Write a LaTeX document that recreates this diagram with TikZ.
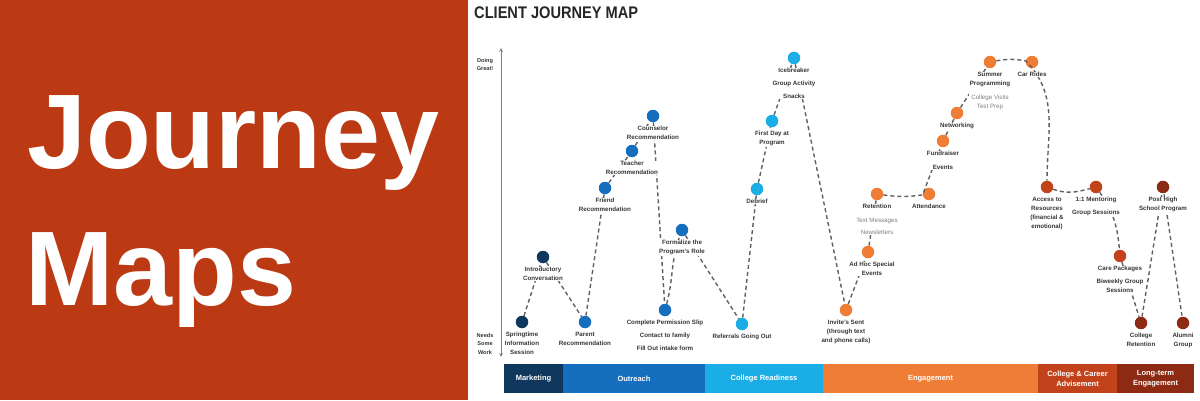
\documentclass[tikz,border=0pt]{standalone}
\usepackage{fontspec}
\setmainfont{Liberation Sans}
\usetikzlibrary{positioning,arrows}

\definecolor{panelred}{RGB}{187,58,20}
\definecolor{navy}{RGB}{16,56,94}
\definecolor{outblue}{RGB}{22,110,190}
\definecolor{skyblue}{RGB}{27,173,230}
\definecolor{engorange}{RGB}{239,125,54}
\definecolor{advred}{RGB}{193,66,27}
\definecolor{ltred}{RGB}{140,42,20}
\definecolor{txtgray}{RGB}{55,55,55}
\newcommand{\softtxt}[1]{{\mdseries\color{gray}#1}}

\begin{document}
\begin{tikzpicture}[x=1pt,y=1pt,
    dot/.style={circle,inner sep=0pt,minimum size=12.5pt},
    lbl/.style={font=\fontsize{6.2}{9}\selectfont\bfseries,text=txtgray,align=center,fill=white,inner sep=0.6pt},
    trail/.style={dashed,dash pattern=on 4pt off 3pt,line width=1.4pt,draw=gray!75!black,shorten <=1pt,shorten >=1pt},
    bar/.style={minimum height=29pt,inner sep=0pt,outer sep=0pt,text=white,align=center,font=\fontsize{7.5}{10}\selectfont\bfseries},
    axlbl/.style={font=\fontsize{5.6}{8.5}\selectfont\bfseries,text=txtgray,align=center,inner sep=0pt}]
        \useasboundingbox (0,0) rectangle (1200,400);

        \fill[panelred] (0,0) rectangle (468,400);
        \node[anchor=base west,inner sep=0pt,text=white,font=\fontsize{106}{120}\selectfont\bfseries] (jour) at (27,232) {Journey};
        \node[anchor=base west,inner sep=0pt,text=white,font=\fontsize{106}{120}\selectfont\bfseries] (maps) at (25,95) {Maps};

        \node[anchor=base west,inner sep=0pt,text=black!85,font=\fontsize{16.8}{18}\selectfont\bfseries] (maptitle) at (474,381) {\scalebox{0.87}[1]{CLIENT JOURNEY MAP}};

        \coordinate (axtop) at (501,352);
        \coordinate (axbot) at (501,43);
        \draw[<->,>=stealth,gray,line width=0.8pt] (axbot) -- (axtop);
        \node[axlbl] (great) at (485,335.5) {Doing\\Great!};
        \node[axlbl] (needs) at (485,56.5) {Needs\\Some\\Work};

        \node[dot,fill=navy] (spring) at (522,78) {};
        \node[dot,fill=navy] (intro) at (543,143) {};
        \node[dot,fill=outblue] (parent) at (585,78) {};
        \node[dot,fill=outblue] (friend) at (605,212) {};
        \node[dot,fill=outblue] (teacher) at (632,249) {};
        \node[dot,fill=outblue] (counsel) at (653,284) {};
        \node[dot,fill=outblue] (permit) at (665,90) {};
        \node[dot,fill=outblue] (formal) at (682,170) {};
        \node[dot,fill=skyblue] (referral) at (742,76) {};
        \node[dot,fill=skyblue] (debrief) at (757,211) {};
        \node[dot,fill=skyblue] (firstday) at (772,279) {};
        \node[dot,fill=skyblue] (ice) at (794,342) {};
        \node[dot,fill=engorange] (invite) at (846,90) {};
        \node[dot,fill=engorange] (adhoc) at (868,148) {};
        \node[dot,fill=engorange] (retain) at (877,206) {};
        \node[dot,fill=engorange] (attend) at (929,206) {};
        \node[dot,fill=engorange] (fund) at (943,259) {};
        \node[dot,fill=engorange] (network) at (957,287) {};
        \node[dot,fill=engorange] (summer) at (990,338) {};
        \node[dot,fill=engorange] (carride) at (1032,338) {};
        \node[dot,fill=advred] (access) at (1047,213) {};
        \node[dot,fill=advred] (mentor) at (1096,213) {};
        \node[dot,fill=advred] (care) at (1120,144) {};
        \node[dot,fill=ltred] (colret) at (1141,77) {};
        \node[dot,fill=ltred] (posths) at (1163,213) {};
        \node[dot,fill=ltred] (alumni) at (1183,77) {};

        \draw[trail] (spring) -- (intro) -- (parent) -- (friend) -- (teacher) -- (counsel) -- (permit)
            to[out=75,in=250] (formal) -- (referral) -- (debrief) -- (firstday) -- (ice) -- (invite)
            -- (adhoc) -- (retain) to[bend right=8] (attend) -- (fund) -- (network) -- (summer)
            to[bend left=10] (carride) to[out=-45,in=90] (access) to[out=-20,in=195] (mentor)
            to[out=-55,in=95] (care) -- (colret) -- (posths) -- (alumni);

        \node[lbl,below=3pt of spring] (springL) {Springtime\\Information\\Session};
        \node[lbl,below=3pt of intro] (introL) {Introductory\\Conversation};
        \node[lbl,below=3pt of parent] (parentL) {Parent\\Recommendation};
        \node[lbl,below=3pt of friend] (friendL) {Friend\\Recommendation};
        \node[lbl,below=3pt of teacher] (teacherL) {Teacher\\Recommendation};
        \node[lbl,below=3pt of counsel] (counselL) {Counselor\\Recommendation};
        \node[lbl,below=3pt of permit] (permitL) {Complete Permission Slip\\[4pt]Contact to family\\[4pt]Fill Out intake form};
        \node[lbl,below=3pt of formal] (formalL) {Formalize the\\Program's Role};
        \node[lbl,below=3pt of referral] (referralL) {Referrals Going Out};
        \node[lbl,below=3pt of debrief] (debriefL) {Debrief};
        \node[lbl,below=3pt of firstday] (firstdayL) {First Day at\\Program};
        \node[lbl,below=3pt of ice] (iceL) {Icebreaker\\[4pt]Group Activity\\[4pt]Snacks};
        \node[lbl,below=3pt of invite] (inviteL) {Invite's Sent\\(through text\\and phone calls)};
        \node[lbl,below=3pt of adhoc,xshift=4pt] (adhocL) {Ad Hoc Special\\Events};
        \node[lbl,below=3pt of retain] (retainL) {Retention\\[5pt]\softtxt{Text Messages}\\[3pt]\softtxt{Newsletters}};
        \node[lbl,below=3pt of attend] (attendL) {Attendance};
        \node[lbl,below=3pt of fund] (fundL) {Fundraiser\\[5pt]Events};
        \node[lbl,below=3pt of network] (networkL) {Networking};
        \node[lbl,below=3pt of summer] (summerL) {Summer\\Programming\\[5pt]\softtxt{College Visits}\\\softtxt{Test Prep}};
        \node[lbl,below=3pt of carride] (carrideL) {Car Rides};
        \node[lbl,below=3pt of access] (accessL) {Access to\\Resources\\(financial \&\\emotional)};
        \node[lbl,below=3pt of mentor] (mentorL) {1:1 Mentoring\\[4pt]Group Sessions};
        \node[lbl,below=3pt of care] (careL) {Care Packages\\[4pt]Biweekly Group\\Sessions};
        \node[lbl,below=3pt of colret] (colretL) {College\\Retention};
        \node[lbl,below=3pt of posths] (posthsL) {Post High\\School Program};
        \node[lbl,below=3pt of alumni] (alumniL) {Alumni\\Group};

        \node[bar,fill=navy,minimum width=59pt] (mkt) at (533.5,21.5) {Marketing};
        \node[bar,fill=outblue,minimum width=142pt,right=0pt of mkt] (outr) {Outreach};
        \node[bar,fill=skyblue,minimum width=118pt,right=0pt of outr] (ready) {College Readiness};
        \node[bar,fill=engorange,minimum width=215pt,right=0pt of ready] (engage) {Engagement};
        \node[bar,fill=advred,minimum width=79pt,right=0pt of engage] (advise) {College \& Career\\Advisement};
        \node[bar,fill=ltred,minimum width=77pt,right=0pt of advise] (longterm) {Long-term\\Engagement};
    \end{tikzpicture}
\end{document}
